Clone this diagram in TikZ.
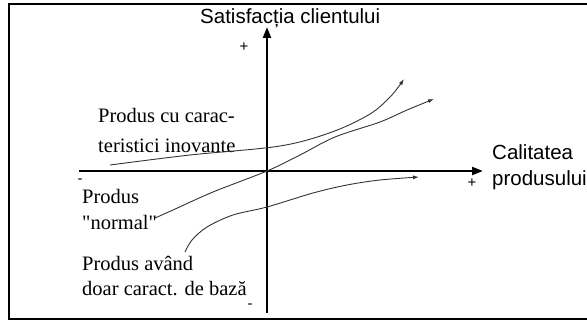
\documentclass[tikz,border=0pt]{standalone}
\usepackage{fontspec}
\setmainfont{Liberation Serif}[Ligatures=TeXOff]
\setsansfont{Liberation Sans}
\usetikzlibrary{arrows.meta}

\begin{document}
\begin{tikzpicture}[
  x=1pt, y=-1pt,
  axis/.style={line width=2.2pt, -{Triangle[length=11pt,width=8pt]}},
  curve/.style={line width=0.9pt, black!80, -{Latex[length=6pt,width=4pt]}},
  lbl/.style={font=\fontsize{20.5}{25}\selectfont, inner sep=0pt, anchor=base west},
  axlbl/.style={font=\sffamily\fontsize{20.5}{25}\selectfont, inner sep=0pt, anchor=base west},
  sign/.style={font=\sffamily\fontsize{15}{15}\selectfont, inner sep=0pt}
]
  \useasboundingbox (0,0) rectangle (587,321);
  \draw[line width=2pt] (600,4.5) -- (9,4.5) -- (9,319) -- (600,319);

  % axes
  \coordinate (O) at (267,171);
  \coordinate (xl) at (79,171);
  \coordinate (xr) at (483,171);
  \coordinate (yb) at (267,313);
  \coordinate (yt) at (267,27);
  \draw[axis] (xl) -- (xr);
  \draw[axis] (yb) -- (yt);

  \node[axlbl] (ylbl) at (200,23.5) {Satisfacția clientului};
  \node[axlbl] (xlblA) at (492,160) {Calitatea};
  \node[axlbl] (xlblB) at (492,185) {produsului};

  \node[sign] (ypos) at (244,47) {+};
  \node[sign] (yneg) at (250,306) {-};
  \node[sign] (xpos) at (472,183) {+};
  \node[sign] (xneg) at (80,181) {-};

  % product types
  \node[lbl] (inovA) at (98,123) {Produs cu carac-};
  \node[lbl] (inovB) at (98,152) {teristici inovante};
  \node[lbl] (normA) at (82,203) {Produs};
  \node[lbl] (normB) at (82,229) {"normal"};
  \node[lbl] (basA) at (82,270) {Produs având};
  \node[lbl] (basB) at (82,295) {doar caract. de bază};

  % curves
  \coordinate (inovS) at (110,165);
  \coordinate (inovE) at (404,79);
  \coordinate (normS) at (155,218);
  \coordinate (normE) at (434,99);
  \coordinate (basS) at (185,252);
  \coordinate (basE) at (419,177);
  \draw[curve] plot[smooth, tension=0.55] coordinates
    {(inovS) (190,155) (280,146) (332,132) (370,114) (391,96) (inovE)};
  \draw[curve] plot[smooth, tension=0.55] coordinates
    {(normS) (173,210) (213,192) (267,171) (300,155) (335,137) (380,122) (407,110) (normE)};
  \draw[curve] plot[smooth, tension=0.55] coordinates
    {(basS) (192,240) (207,227) (233,215) (267,207) (313,193) (347,185) (380,180) (basE)};
\end{tikzpicture}
\end{document}
